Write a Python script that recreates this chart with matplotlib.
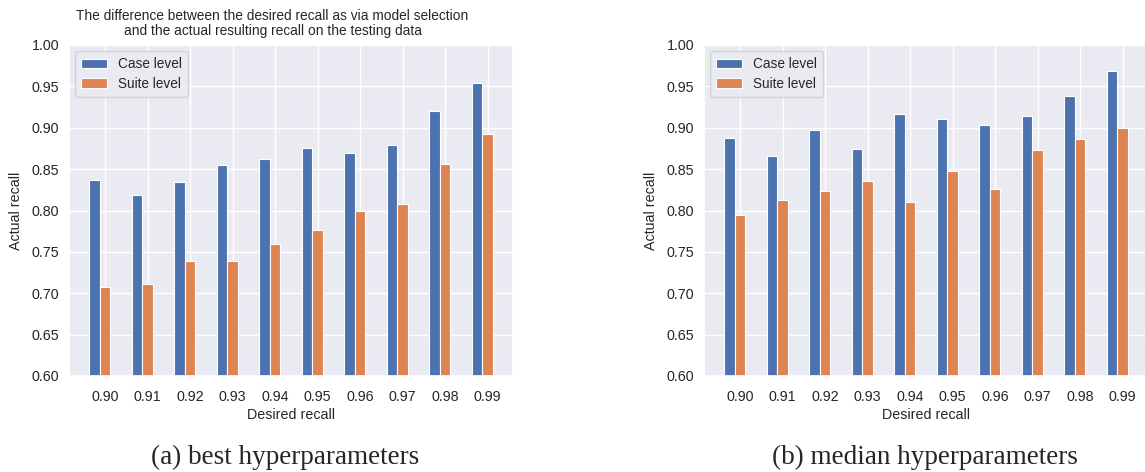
import matplotlib
matplotlib.use("Agg")
import matplotlib.pyplot as plt
import numpy as np
import seaborn as sns

desired = ["0.90", "0.91", "0.92", "0.93", "0.94", "0.95", "0.96", "0.97", "0.98", "0.99"]
best_case = [0.837, 0.819, 0.834, 0.855, 0.862, 0.875, 0.869, 0.879, 0.920, 0.954]
best_suite = [0.707, 0.711, 0.739, 0.739, 0.760, 0.776, 0.800, 0.808, 0.856, 0.893]
median_case = [0.888, 0.866, 0.897, 0.874, 0.917, 0.910, 0.903, 0.914, 0.938, 0.969]
median_suite = [0.794, 0.8125, 0.823, 0.836, 0.810, 0.848, 0.826, 0.873, 0.886, 0.900]

sns.set_theme(style="darkgrid")
plt.rcParams['font.family'] = ['Liberation Sans', 'DejaVu Sans']

W, H = 1145, 472
fig = plt.figure(figsize=(W / 100, H / 100), dpi=100)

def px_axes(left, top, right, bottom):
    return fig.add_axes([left / W, 1 - bottom / H, (right - left) / W, (bottom - top) / H])

blue = "#4C72B0"
orange = "#DD8452"
w = 0.25

def draw(ax, case, suite):
    x = np.arange(len(desired))
    ax.bar(x - w, case, width=w, color=blue, edgecolor="white", linewidth=0.8, label="Case level")
    ax.bar(x, suite, width=w, color=orange, edgecolor="white", linewidth=0.8, label="Suite level")
    ax.set_ylim(0.60, 1.00)
    yt = np.arange(0.60, 1.001, 0.05)
    ax.set_yticks(yt)
    ax.set_yticklabels([f"{v:.2f}" for v in yt], fontsize=10.3)
    ax.set_xticks(x)
    ax.set_xticklabels(desired, fontsize=10.3)
    ax.tick_params(axis='both', length=0)
    ax.tick_params(axis='y', pad=7)
    ax.tick_params(axis='x', pad=10)
    ax.set_xlabel("Desired recall", fontsize=10.3, labelpad=3)
    ax.set_ylabel("Actual recall", fontsize=10.3, labelpad=6)
    ax.legend(loc="upper left", fontsize=9.8, handlelength=1.9, borderpad=0.45,
              labelspacing=0.4, handletextpad=0.8, borderaxespad=0.45)

ax1 = px_axes(69, 45, 513, 376)
draw(ax1, best_case, best_suite)
ax2 = px_axes(704, 45, 1148, 376)
draw(ax2, median_case, median_suite)

fig.text(272.5 / W, 1 - 23.5 / H,
         "The difference between the desired recall as via model selection\nand the actual resulting recall on the testing data",
         ha="center", va="center", fontsize=9.9, linespacing=1.15)

fig.text(285 / W, 1 - 457 / H, "(a) best hyperparameters", ha="center", va="center",
         fontsize=19.5, family="Liberation Serif")
fig.text(925 / W, 1 - 457 / H, "(b) median hyperparameters", ha="center", va="center",
         fontsize=19.5, family="Liberation Serif")

fig.savefig("out.png", dpi=100)
